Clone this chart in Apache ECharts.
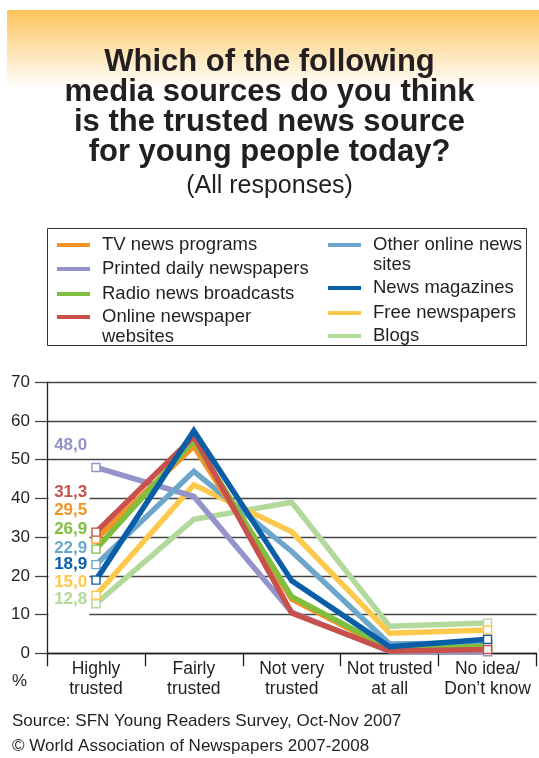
<!DOCTYPE html>
<html>
<head>
<meta charset="utf-8">
<script src="https://cdn.jsdelivr.net/npm/echarts@6/dist/echarts.min.js"></script>
<style>
  html, body { margin: 0; padding: 0; background: #ffffff; }
  #chart { width: 539px; height: 758px; }
</style>
</head>
<body>
<div id="chart"></div>
<script>
// Survey answers (share of respondents, %)
const categories = ['Highly\ntrusted', 'Fairly\ntrusted', 'Not very\ntrusted', 'Not trusted\nat all', 'No idea/\nDon\u2019t know'];

const tvNewsPrograms        = [29.5, 53.5, 14.0, 1.0, 1.4];
const printedDailyPapers    = [48.0, 40.5, 10.6, 0.5, 0.4];
const radioNewsBroadcasts   = [26.9, 55.0, 14.6, 1.2, 1.8];
const onlineNewspaperSites  = [31.3, 56.0, 10.4, 0.6, 1.0];
const otherOnlineNewsSites  = [22.9, 47.0, 26.3, 2.4, 2.7];
const newsMagazines         = [18.9, 57.5, 18.7, 1.7, 3.6];
const freeNewspapers        = [15.0, 43.5, 31.4, 5.2, 6.0];
const blogs                 = [12.8, 34.6, 39.0, 7.0, 7.8];

const yMin = 0, yMax = 70, yStep = 10;

const FONT = '"Liberation Sans", Arial, Helvetica, sans-serif';
const INK = '#231f20';

// name, values, colour, vertical nudge of the start-value label (px)
const media = [
  { name: 'TV news programs',          values: tvNewsPrograms,       color: '#f39325', labelDy: -29 },
  { name: 'Printed daily newspapers',  values: printedDailyPapers,   color: '#9493ca', labelDy: -22 },
  { name: 'Radio news broadcasts',     values: radioNewsBroadcasts,  color: '#7fbf3f', labelDy: -20 },
  { name: 'Online newspaper websites', values: onlineNewspaperSites, color: '#c8514c', labelDy: -40 },
  { name: 'Other online news sites',   values: otherOnlineNewsSites, color: '#6ca7cb', labelDy: -16 },
  { name: 'News magazines',            values: newsMagazines,        color: '#0a5ea8', labelDy: -16 },
  { name: 'Free newspapers',           values: freeNewspapers,       color: '#fdc94d', labelDy: -13 },
  { name: 'Blogs',                     values: blogs,                color: '#b2d89a', labelDy: -4 }
];

// stacking order of the lines (last one on top)
const drawOrder = ['Blogs', 'Free newspapers', 'Printed daily newspapers', 'Other online news sites',
                   'TV news programs', 'Radio news broadcasts', 'Online newspaper websites', 'News magazines'];

// legend layout: two columns, long names wrap onto a second line below the swatch row
const legendText = {
  'Online newspaper websites': ' \nOnline newspaper\nwebsites',
  'Other online news sites': ' \nOther online news\nsites'
};
const legendSlots = [
  { name: 'TV news programs',          left: 57,  cy: 245 },
  { name: 'Printed daily newspapers',  left: 57,  cy: 269 },
  { name: 'Radio news broadcasts',     left: 57,  cy: 294 },
  { name: 'Online newspaper websites', left: 57,  cy: 317 },
  { name: 'Other online news sites',   left: 328, cy: 245 },
  { name: 'News magazines',            left: 328, cy: 288 },
  { name: 'Free newspapers',           left: 328, cy: 313 },
  { name: 'Blogs',                     left: 328, cy: 336 }
];

const fmt = v => v.toFixed(1).replace('.', ',');

const series = drawOrder.map(n => {
  const m = media.find(d => d.name === n);
  const last = m.values.length - 1;
  return {
    name: m.name,
    type: 'line',
    z: 3,
    color: m.color,
    lineStyle: { width: 5.5, color: m.color, join: 'miter', cap: 'butt' },
    emphasis: { disabled: true },
    animation: false,
    data: m.values.map((v, i) => {
      const ends = (i === 0 || i === last);
      const item = {
        value: v,
        symbol: ends ? 'rect' : 'none',
        symbolSize: 8,
        itemStyle: { color: '#ffffff', borderColor: m.color, borderWidth: 1.4 }
      };
      if (i === 0) {
        item.label = {
          show: true,
          position: 'left',
          distance: 4,
          offset: [0, m.labelDy],
          formatter: p => fmt(p.value),
          color: m.color,
          fontFamily: FONT,
          fontSize: 17,
          fontWeight: 'bold'
        };
      }
      return item;
    })
  };
});

const legends = legendSlots.map(s => {
  const twoLines = !!legendText[s.name];
  return {
    data: [s.name],
    orient: 'vertical',
    left: s.left,
    top: twoLines ? s.cy - 30 : s.cy - 10,
    padding: 0,
    itemWidth: 33,
    itemHeight: 4,
    icon: 'rect',
    selectedMode: false,
    formatter: name => legendText[name] || name,
    textStyle: {
      fontFamily: FONT, fontSize: 18.5, color: INK, lineHeight: 20,
      padding: [0, 0, 0, 7]
    }
  };
});

const chart = echarts.init(document.getElementById('chart'), null, { renderer: 'canvas' });

chart.setOption({
  backgroundColor: '#ffffff',
  animation: false,
  textStyle: { fontFamily: FONT },
  title: {
    text: 'Which of the following\nmedia sources do you think\nis the trusted news source\nfor young people today?',
    subtext: '(All responses)',
    left: 'center',
    top: 47,
    padding: 0,
    itemGap: 6,
    textStyle: { fontFamily: FONT, fontSize: 31, fontWeight: 'bold', lineHeight: 30, color: INK },
    subtextStyle: { fontFamily: FONT, fontSize: 25, lineHeight: 24, color: INK }
  },
  legend: legends,
  grid: { left: 47, right: 2.5, top: 382.3, bottom: 104.7, containLabel: false },
  xAxis: {
    type: 'category',
    data: categories,
    boundaryGap: true,
    axisLine: { show: true, lineStyle: { color: INK, width: 1.3 } },
    axisTick: { show: true, length: 13, interval: 0, lineStyle: { color: INK, width: 1.3 } },
    axisLabel: { interval: 0, margin: 6, fontFamily: FONT, fontSize: 17.5, lineHeight: 20, color: INK },
    splitLine: { show: false }
  },
  yAxis: {
    type: 'value',
    min: yMin, max: yMax, interval: yStep,
    axisLine: { show: true, lineStyle: { color: INK, width: 1.3 } },
    axisTick: { show: true, length: 12, lineStyle: { color: '#444444', width: 1.3 } },
    axisLabel: { margin: 17, fontFamily: FONT, fontSize: 17, color: INK },
    splitLine: { show: true, lineStyle: { color: '#444444', width: 1.3 } }
  },
  series: series,
  graphic: [
    {
      type: 'rect', z: -10, silent: true,
      shape: { x: 7, y: 10, width: 532, height: 78 },
      style: {
        fill: new echarts.graphic.LinearGradient(0, 0, 0, 1, [
          { offset: 0, color: '#fdc45c' },
          { offset: 1, color: '#ffffff' }
        ])
      }
    },
    {
      // blank strip behind the start-value labels
      type: 'rect', z: 1, silent: true,
      shape: { x: 48.5, y: 478, width: 41, height: 139 },
      style: { fill: '#ffffff' }
    },
    {
      type: 'rect', z: -5, silent: true,
      shape: { x: 47.5, y: 228.5, width: 479, height: 117 },
      style: { fill: 'none', stroke: '#333333', lineWidth: 1 }
    },
    {
      type: 'text', left: 12, top: 673, silent: true,
      style: { text: '%', font: '17px ' + FONT, fill: INK }
    },
    {
      type: 'text', left: 12, top: 713, silent: true,
      style: { text: 'Source: SFN Young Readers Survey, Oct-Nov 2007', font: '17px ' + FONT, fill: INK }
    },
    {
      type: 'text', left: 12, top: 738, silent: true,
      style: { text: '\u00a9 World Association of Newspapers 2007-2008', font: '17px ' + FONT, fill: INK }
    }
  ]
});
</script>
</body>
</html>
